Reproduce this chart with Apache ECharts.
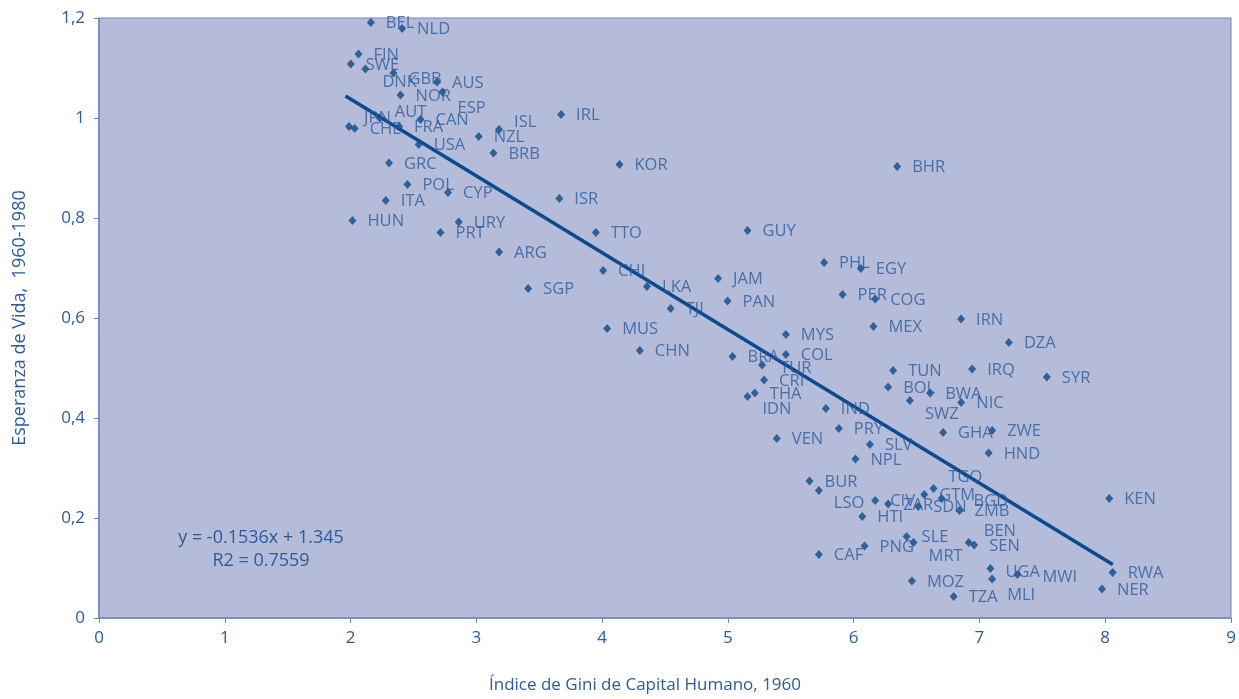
<!DOCTYPE html>
<html>
<head>
<meta charset="utf-8">
<script src="https://cdn.jsdelivr.net/npm/echarts@6/dist/echarts.min.js"></script>
<style>
  html, body { margin: 0; padding: 0; background: #fff; }
  #chart { width: 1239px; height: 699px; }
</style>
</head>
<body>
<div id="chart"></div>
<script>
// country codes, gini of human capital 1960, life expectancy 1960-1980
const codes = ['BEL','NLD','FIN','SWE','DNK','GBR','AUS','ESP','NOR','AUT','CAN','JPN','CHE','FRA','NZL','ISL','USA','BRB','IRL','GRC',
  'POL','CYP','ITA','ISR','KOR','HUN','URY','PRT','ARG','TTO','SGP','CHL','LKA','FJI','MUS','CHN','GUY','BHR','PHL','EGY',
  'JAM','PAN','PER','COG','MEX','MYS','IRN','DZA','BRA','COL','TUR','CRI','THA','IDN','TUN','IRQ','SYR','BOL','BWA','SWZ',
  'NIC','IND','PRY','VEN','GHA','ZWE','HND','SLV','NPL','BUR','LSO','CIV','ZAR','GTM','TGO','SDN','BGD','ZMB','HTI','SLE',
  'MRT','PNG','CAF','BEN','SEN','UGA','MLI','MWI','MOZ','TZA','KEN','RWA','NER']
const labels = ['BEL','NLD','FIN','SWE','DNK','GBB','AUS','ESP','NOR','AUT','CAN','JPN','CHE','FRA','NZL','ISL','USA','BRB','IRL','GRC',
  'POL','CYP','ITA','ISR','KOR','HUN','URY','PRT','ARG','TTO','SGP','CHI','LKA','TJI','MUS','CHN','GUY','BHR','PHL','EGY',
  'JAM','PAN','PER','COG','MEX','MYS','IRN','DZA','BRA','COL','TUR','CRI','THA','IDN','TUN','IRQ','SYR','BOL','BWA','SWZ',
  'NIC','IND','PRY','VEN','GHA','ZWE','HND','SLV','NPL','BUR','LSO','CIV','ZAR','GTM','TGO','SDN','BGD','ZMB','HTI','SLE',
  'MRT','PNG','CAF','BEN','SEN','UGA','MLI','MWI','MOZ','TZA','KEN','RWA','NER']
const gini = [2.161,2.410,2.063,2.002,2.118,2.341,2.688,2.731,2.397,2.232,2.556,1.988,2.033,2.386,3.019,3.181,2.542,3.136,3.674,2.306,
  2.452,2.775,2.280,3.660,4.138,2.015,2.860,2.715,3.181,3.950,3.412,4.008,4.357,4.545,4.040,4.300,5.156,6.346,5.765,6.057,
  4.922,4.997,5.912,6.171,6.157,5.461,6.854,7.234,5.037,5.461,5.272,5.288,5.214,5.156,6.314,6.942,7.536,6.274,6.608,6.447,
  6.855,5.779,5.882,5.389,6.711,7.101,7.073,6.129,6.014,5.649,5.723,6.171,6.274,6.561,6.635,6.513,6.699,6.841,6.068,6.421,
  6.476,6.087,5.723,6.915,6.958,7.087,7.101,7.302,6.463,6.795,8.032,8.059,7.974]
const lifeExp = [1.191,1.179,1.128,1.108,1.098,1.090,1.072,1.052,1.046,1.000,0.997,0.983,0.979,0.983,0.963,0.977,0.947,0.930,1.007,0.910,
  0.867,0.851,0.835,0.839,0.907,0.795,0.792,0.771,0.732,0.771,0.659,0.695,0.663,0.619,0.579,0.535,0.775,0.903,0.711,0.699,
  0.679,0.634,0.647,0.638,0.583,0.567,0.598,0.551,0.523,0.527,0.506,0.476,0.450,0.443,0.495,0.498,0.482,0.462,0.450,0.435,
  0.431,0.419,0.379,0.359,0.371,0.375,0.330,0.347,0.318,0.274,0.255,0.235,0.228,0.247,0.259,0.223,0.239,0.215,0.203,0.163,
  0.151,0.144,0.127,0.151,0.146,0.099,0.078,0.087,0.074,0.043,0.239,0.091,0.058]

// trend line ends
const trendX = [1.96, 8.06]
const trendY = [1.044, 0.107]

const xTicks = [0, 9, 1]
const yTicks = [0, 1.2, 0.2]

// labels that sit off the usual spot in the original
const labelNudge = {
  DNK: [2, 12], GBR: [0, 5], ESP: [0, 15], AUT: [0, -7], JPN: [0, -9], ISL: [0, -8],
  IDN: [0, 12], SWZ: [0, 13], LSO: [0, 12], TGO: [0, -12], BGD: [17, 2], MRT: [0, 13],
  BEN: [0, -12], MLI: [0, 15], UGA: [0, 3], MWI: [10, 2], TUR: [3, 2]
}

const textBlue = '#2c5b9c'
const markBlue = '#0b4a8c'

const points = codes.map((c, i) => {
  const item = { name: labels[i], value: [gini[i], lifeExp[i]] }
  if (labelNudge[c]) item.label = { offset: [labelNudge[c][0] + 2, labelNudge[c][1] + 1] }
  return item
})

const chart = echarts.init(document.getElementById('chart'))

chart.setOption({
  backgroundColor: '#ffffff',
  animation: false,
  textStyle: { fontFamily: '"Open Sans", "Noto Sans", sans-serif' },
  grid: {
    left: 99, top: 18, right: 8, bottom: 79,
    show: true,
    backgroundColor: '#b4bcd9',
    borderColor: '#6e86bd',
    borderWidth: 1
  },
  xAxis: {
    type: 'value',
    min: xTicks[0], max: xTicks[1], interval: xTicks[2],
    name: 'Índice de Gini de Capital Humano, 1960',
    nameLocation: 'middle',
    nameGap: 59,
    nameTextStyle: { color: textBlue, fontSize: 17, padding: [0, 40, 0, 0] },
    axisLine: { show: true, lineStyle: { color: '#6e86bd', width: 1.5 } },
    axisTick: { show: true, length: 5, lineStyle: { color: '#6e86bd' } },
    axisLabel: { color: textBlue, fontSize: 17, margin: 12 },
    splitLine: { show: false }
  },
  yAxis: {
    type: 'value',
    min: yTicks[0], max: yTicks[1], interval: yTicks[2],
    name: 'Esperanza de Vida,  1960-1980',
    nameLocation: 'middle',
    nameGap: 70,
    nameTextStyle: { color: textBlue, fontSize: 18 },
    axisLine: { show: true, lineStyle: { color: '#6e86bd', width: 1.5 } },
    axisTick: { show: true, length: 5, lineStyle: { color: '#6e86bd' } },
    axisLabel: {
      color: textBlue, fontSize: 17, margin: 14,
      formatter: v => String(Math.round(v * 10) / 10).replace('.', ',')
    },
    splitLine: { show: false }
  },
  series: [
    {
      type: 'scatter',
      symbol: 'diamond',
      symbolSize: [8, 9],
      itemStyle: { color: markBlue },
      label: {
        show: true,
        position: 'right',
        distance: 9,
        offset: [2, 1],
        formatter: p => p.name,
        color: textBlue,
        fontSize: 16.5
      },
      data: points,
      z: 3
    },
    {
      type: 'line',
      data: trendX.map((x, i) => [x, trendY[i]]),
      symbol: 'none',
      lineStyle: { color: markBlue, width: 3.5 },
      z: 2
    }
  ],
  graphic: [
    {
      type: 'text',
      x: 261,
      y: 526,
      style: {
        text: 'y = -0.1536x + 1.345\nR2 = 0.7559',
        fill: textBlue, fontSize: 18, lineHeight: 23,
        align: 'center', verticalAlign: 'top',
        fontFamily: '"Open Sans", "Noto Sans", sans-serif'
      }
    }
  ]
})
</script>
</body>
</html>
